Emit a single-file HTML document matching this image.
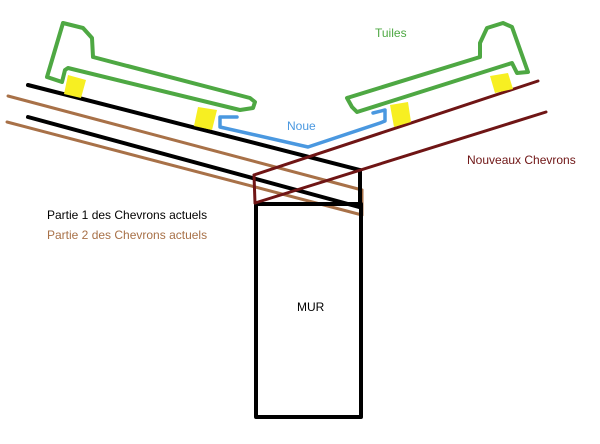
<!DOCTYPE html>
<html><head><style>
html,body{margin:0;padding:0;background:#fff;}
svg{display:block}
text{font-family:"Liberation Sans",sans-serif;font-size:12px}
</style></head><body>
<svg width="600" height="444" viewBox="0 0 600 444">
<g fill="none" stroke-linejoin="round" stroke-linecap="round">
<!-- brown chevrons -->
<line x1="8" y1="96" x2="362" y2="190" stroke="#a87148" stroke-width="3"/>
<line x1="7" y1="122" x2="362" y2="215" stroke="#a87148" stroke-width="3"/>
<line x1="362" y1="190" x2="362" y2="215" stroke="#a87148" stroke-width="3"/>
<!-- black chevrons -->
<line x1="28" y1="85" x2="360" y2="170" stroke="#000" stroke-width="4"/>
<line x1="28" y1="117" x2="359" y2="207" stroke="#000" stroke-width="4"/>
<!-- wall -->
<rect x="256" y="204" width="105" height="213" stroke="#000" stroke-width="4"/>
<line x1="360" y1="170" x2="360" y2="205" stroke="#000" stroke-width="4"/>
<!-- new chevrons -->
<line x1="254" y1="175" x2="538" y2="81" stroke="#6f1515" stroke-width="3"/>
<line x1="255" y1="203" x2="546" y2="112" stroke="#6f1515" stroke-width="3"/>
<line x1="254" y1="175" x2="255" y2="203" stroke="#6f1515" stroke-width="3"/>
<!-- noue -->
<polyline points="237,117 220,117 220,127 308,147 380,123 385,121 385,110 373,113" stroke="#4a98e0" stroke-width="3.5"/>
<!-- tiles -->
<polyline points="63,23 83,28 92,38 93,57 250,98 255,102 253,108 240,110 68,68 65,70 62,82 47,77 63,23" stroke="#4ea843" stroke-width="4"/>
<polyline points="347,98 480,57 480,43 487,28 503,23 512,27 528,72 517,73 512,63 357,112 352,107 347,98" stroke="#4ea843" stroke-width="4"/>
</g>
<g fill="#f7ef22">
<polygon points="68,75 86,80 81,98 64,94"/>
<polygon points="198,107 217,110 212,130 194,126"/>
<polygon points="390,105 408,102 411,122 394,127"/>
<polygon points="490,76 508,73 513,89 495,93"/>
</g>
<text x="375" y="37" fill="#4ea843">Tuiles</text>
<text x="287" y="130" fill="#4a98e0">Noue</text>
<text x="467" y="164" fill="#6f1515">Nouveaux Chevrons</text>
<text x="47" y="219" fill="#000">Partie 1 des Chevrons actuels</text>
<text x="47" y="239" fill="#a87148">Partie 2 des Chevrons actuels</text>
<text x="297" y="311" fill="#000">MUR</text>
</svg>
</body></html>
